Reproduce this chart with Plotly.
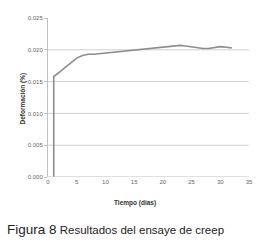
import plotly.graph_objects as go

dias = [1, 1, 2, 3, 4, 5, 6, 7, 8, 10, 12, 14, 16, 18, 20, 22, 23, 24, 26, 27, 28, 29, 30, 31, 32]
deformacion = [0.0, 0.0158, 0.0165, 0.0172, 0.0180, 0.0187, 0.0191, 0.0193, 0.0193, 0.0195,
               0.0197, 0.0199, 0.0201, 0.0202, 0.0204, 0.0206, 0.0207, 0.0206, 0.0203,
               0.0202, 0.0202, 0.0204, 0.0205, 0.0204, 0.0203]
y_ticks = [0.000, 0.005, 0.010, 0.015, 0.020, 0.025]
x_ticks = [0, 5, 10, 15, 20, 25, 30, 35]
grid_vals = [0.005, 0.010, 0.015, 0.020]

fig = go.Figure()
fig.add_trace(go.Scatter(x=dias, y=deformacion, mode="lines",
                         line=dict(color="#8c8c8c", width=1.6), showlegend=False))

for g in grid_vals:
    fig.add_shape(type="line", xref="x", yref="y", x0=0, x1=35, y0=g, y1=g,
                  line=dict(color="#d0d0d0", width=1), layer="below")

pw = 263 - 48 - 10
ph = 245 - 18 - 68
def px_to_paper(xp, yp):
    return (xp - 48) / pw, (245 - 68 - yp) / ph

xt, yt = px_to_paper(137, 203)
xc, yc = px_to_paper(4, 229)
xy, yy = px_to_paper(23, 98)

fig.update_layout(
    width=263, height=245,
    margin=dict(l=48, r=10, t=18, b=68),
    paper_bgcolor="white", plot_bgcolor="white",
    font=dict(family="Liberation Sans, Arial, sans-serif", color="#555555"),
    xaxis=dict(range=[0, 35], tickvals=x_ticks, ticktext=[str(v) for v in x_ticks],
               showgrid=False, zeroline=False, showline=False,
               tickfont=dict(size=6, color="#666666"), ticks=""),
    yaxis=dict(range=[0, 0.025], tickvals=y_ticks, ticktext=[f"{v:.3f}" for v in y_ticks],
               showgrid=False, zeroline=False, showline=True, linecolor="#c0c0c0",
               linewidth=1, ticks="outside", ticklen=3, tickcolor="#c0c0c0",
               tickfont=dict(size=6, color="#666666")),
    annotations=[
        dict(text="<b>Deformación (%)</b>", xref="paper", yref="paper", x=xy, y=yy,
             textangle=-90, showarrow=False, font=dict(size=6.5, color="#333333"),
             xanchor="center", yanchor="middle"),
        dict(text="<b>Tiempo (días)</b>", x=xt, y=yt, xref="paper", yref="paper",
             showarrow=False, font=dict(size=6.5, color="#333333"),
             xanchor="center", yanchor="middle"),
        dict(text="<span style='font-size:13.5px'>Figura 8</span> Resultados del ensaye de creep",
             xref="paper", yref="paper", x=xc, y=yc, showarrow=False,
             font=dict(family="Liberation Sans Narrow, Arial Narrow, sans-serif", size=11.5, color="#222222"),
             xanchor="left", yanchor="middle"),
    ],
)

fig.add_shape(type="line", xref="x", yref="y", x0=0, x1=35, y0=0, y1=0,
              line=dict(color="#c0c0c0", width=1))

fig.write_html("out.html")
